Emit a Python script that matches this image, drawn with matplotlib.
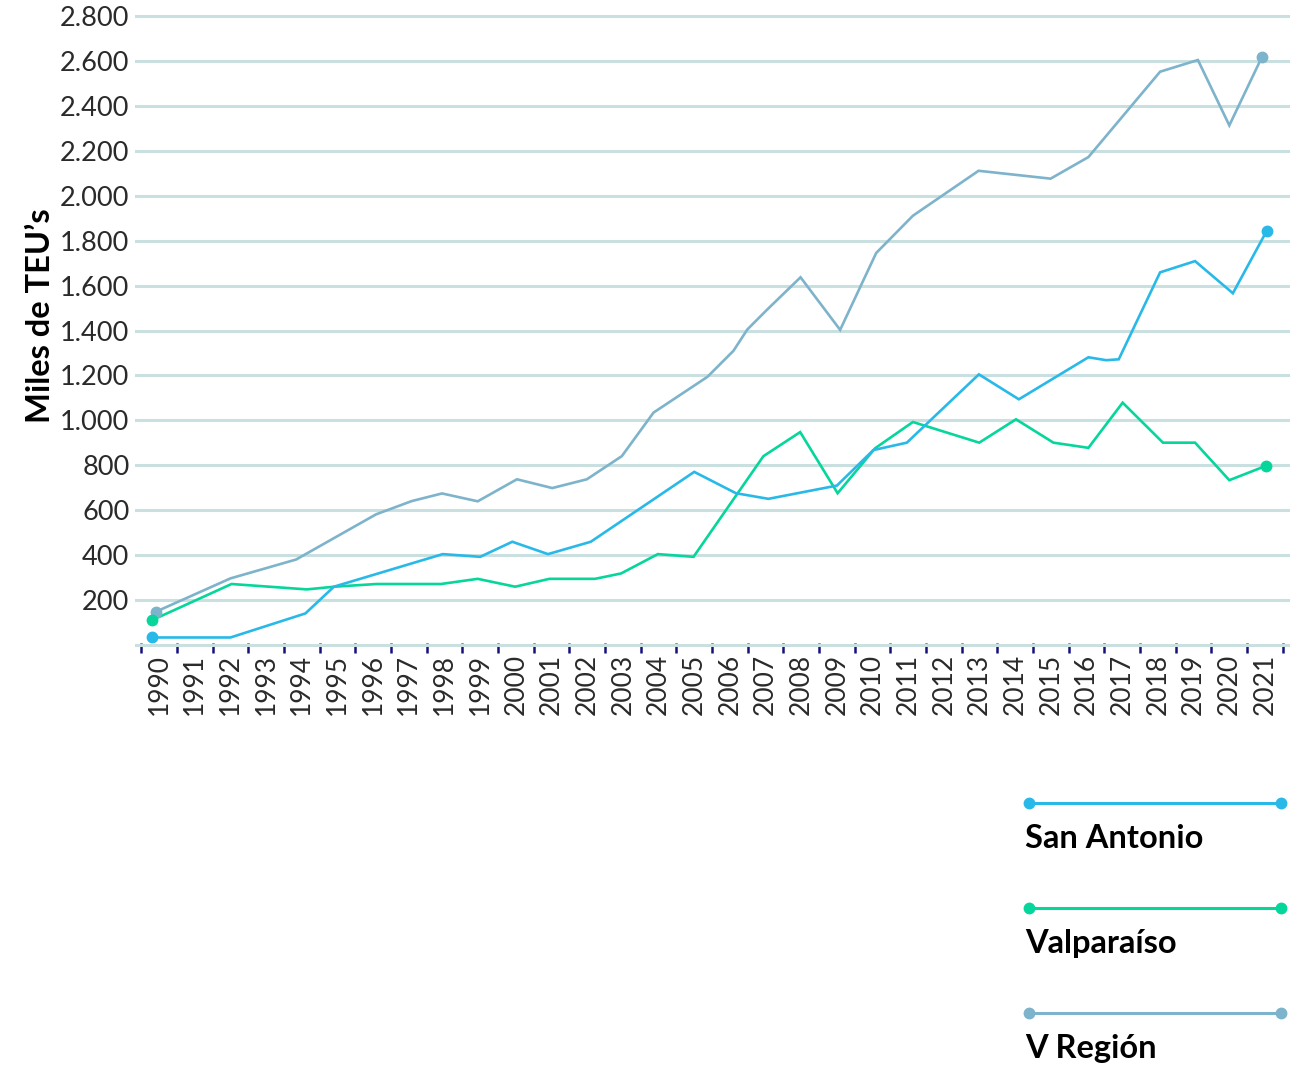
import numpy as np
import matplotlib.pyplot as plt
from matplotlib.lines import Line2D
from matplotlib.ticker import FuncFormatter

# Miles de TEU's por puerto (vertices; some fall between years)
san_antonio_x = [1989.8, 1992.0, 1994.1, 1994.9, 1997.95, 1999.0, 1999.9, 2000.9, 2002.1,
                 2005.0, 2006.17, 2007.08, 2009.0, 2010.02, 2010.96, 2012.98, 2014.1,
                 2016.05, 2016.55, 2016.9, 2018.06, 2019.04, 2020.1, 2021.05]
san_antonio_y = [34, 34, 141, 260, 405, 393, 460, 405, 460,
                 771, 676, 651, 710, 868, 901, 1205, 1094,
                 1281, 1268, 1272, 1659, 1709, 1566, 1844]

valparaiso_x = [1989.8, 1992.03, 1994.14, 1994.91, 1996.1, 1997.9, 1998.93, 1999.98, 2000.94,
                2002.22, 2002.95, 2003.98, 2004.98, 2006.94, 2007.97, 2009.02, 2010.07,
                2011.13, 2012.99, 2014.02, 2015.07, 2016.05, 2017.01, 2018.14, 2019.04,
                2020.0, 2021.03]
valparaiso_y = [111, 272, 248, 260, 272, 272, 295, 260, 295,
                295, 319, 405, 393, 841, 948, 676, 876,
                993, 901, 1005, 901, 878, 1079, 901, 901,
                734, 798]

v_region_x = [1989.9, 1992.0, 1993.84, 1996.08, 1997.08, 1997.93, 1998.93, 2000.03, 2001.02,
              2001.99, 2002.97, 2003.86, 2005.37, 2006.1, 2006.49, 2007.03, 2007.98,
              2009.09, 2010.1, 2011.13, 2012.97, 2014.99, 2016.05, 2018.06, 2019.12,
              2020.0, 2020.91]
v_region_y = [148, 297, 381, 582, 641, 675, 640, 738, 699,
              738, 841, 1035, 1194, 1310, 1405, 1491, 1637,
              1403, 1745, 1911, 2111, 2076, 2172, 2552, 2604,
              2313, 2616]

years = list(range(1990, 2022))
series_names = ['San Antonio', 'Valparaíso', 'V Región']
series_colors = ['#29b9e9', '#06d69b', '#7db3cb']

fig = plt.figure(figsize=(13.12, 10.68), dpi=100)
ax = fig.add_axes([0.1029, 0.3928, 0.8803, 0.5954])

series = [(san_antonio_x, san_antonio_y), (valparaiso_x, valparaiso_y), (v_region_x, v_region_y)]
# draw V Región first so the others sit on top
for (xs, ys), color in list(zip(series, series_colors))[::-1]:
    ax.plot(xs, ys, color=color, lw=1.9, solid_joinstyle='miter', zorder=3)
    ax.plot([xs[0], xs[-1]], [ys[0], ys[-1]], 'o', color=color, ms=7.5, zorder=4)

ax.set_xlim(1989.323, 2021.70)
ax.set_ylim(-15, 2815)

# y axis
ax.set_yticks(range(0, 2801, 200))
ax.yaxis.set_major_formatter(FuncFormatter(lambda v, p: '' if v == 0 else f'{v:,.0f}'.replace(',', '.')))
ax.tick_params(axis='y', length=0, pad=4, labelsize=19.5, labelcolor='#2a2a2a')
ax.yaxis.grid(True, color='#cadfdf', lw=2.2)
ax.set_axisbelow(True)

# x axis: tick marks between years, labels centred on each year
ax.set_xticks(np.arange(1989.5, 2022, 1.0))
ax.set_xticklabels([])
ax.set_xticks(years, minor=True)
ax.set_xticklabels([str(y) for y in years], minor=True, rotation=90)
ax.tick_params(axis='x', which='major', direction='inout', length=6.5, width=1.8, color='#12127a')
ax.tick_params(axis='x', which='minor', length=0, pad=4, labelsize=19, labelcolor='#2a2a2a')

for lab in ax.get_xticklabels(minor=True) + ax.get_yticklabels():
    lab.set_family('Lato')
    lab.set_fontweight('normal')

for s in ax.spines.values():
    s.set_visible(False)

fig.text(0.031, 0.704, 'Miles de TEU\u2019s', rotation=90, ha='center', va='center',
         fontsize=23.5, fontweight='bold', family='Lato', color='black')

# legend at the bottom right
line_y = [0.2481, 0.1498, 0.0515]
text_y = [0.206, 0.1077, 0.0094]
for name, color, ly, ty in zip(series_names, series_colors, line_y, text_y):
    fig.add_artist(Line2D([0.7843, 0.9764], [ly, ly], color=color, lw=2.2,
                          marker='o', ms=7.5, transform=fig.transFigure))
    fig.text(0.7812, ty, name, ha='left', va='baseline', fontsize=23.5,
             fontweight='bold', family='Lato', color='black')

plt.savefig('out.png', dpi=100, facecolor='white')
plt.close()
